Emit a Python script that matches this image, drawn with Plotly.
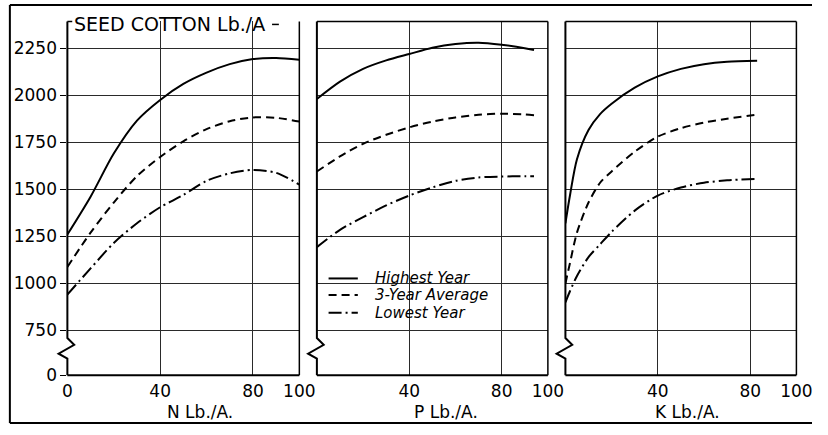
import plotly.graph_objects as go

# ---------------- data ----------------
N_x = [0, 10, 20, 30, 40, 50, 60, 70, 80, 90, 100]
N_high = [1260, 1461, 1690, 1865, 1975, 2060, 2120, 2165, 2192, 2198, 2188]
N_avg = [1088, 1270, 1430, 1570, 1672, 1755, 1820, 1862, 1882, 1880, 1860]
N_low = [941, 1080, 1215, 1320, 1405, 1470, 1545, 1585, 1603, 1588, 1525]

P_x = [0, 10, 20, 30, 40, 50, 60, 70, 80, 90, 94]
P_high = [1980, 2072, 2140, 2185, 2219, 2252, 2272, 2279, 2268, 2250, 2240]
P_avg = [1595, 1675, 1742, 1790, 1829, 1860, 1882, 1896, 1902, 1898, 1894]
P_low = [1193, 1285, 1352, 1415, 1467, 1510, 1545, 1563, 1568, 1570, 1570]

K_x = [0, 2, 5, 10, 15, 20, 30, 40, 50, 60, 70, 83]
K_high = [1320, 1470, 1660, 1815, 1900, 1955, 2040, 2100, 2140, 2165, 2178, 2183]
K_avg = [1000, 1110, 1270, 1430, 1535, 1595, 1700, 1780, 1825, 1855, 1875, 1897]
K_low = [900, 960, 1040, 1140, 1208, 1274, 1387, 1467, 1510, 1535, 1548, 1556]

series_names = ["Highest Year", "3-Year Average", "Lowest Year"]
panel_titles = ["N Lb./A.", "P Lb./A.", "K Lb./A."]
y_title = "SEED COTTON Lb./A"
y_ticks = [750, 1000, 1250, 1500, 1750, 2000, 2250]
y_break_label = "0"
x_ticks = [[0, 40, 80, 100], [40, 80, 100], [40, 80, 100]]

panels_data = [
    (N_x, [N_high, N_avg, N_low]),
    (P_x, [P_high, P_avg, P_low]),
    (K_x, [K_high, K_avg, K_low]),
]

# ---------------- layout geometry (pixels) ----------------
W, H = 828, 435
panel_px = [(64, 302), (320, 557), (575, 812)]
top_px, bot_px = 22, 384
# y scale: 750 at 338.3 px, 2250 at 49.3 px
scale = (338.3 - 49.3) / 1500.0
y_lo = 750 - (bot_px - 338.3) / scale
y_hi = 750 + (338.3 - top_px) / scale


def fx(p):
    return p / W


def fy(p):
    return 1 - p / H


dashes = ["solid", "8px,5px", "13px,4px,2px,4px"]
FONT = "DejaVu Sans"

fig = go.Figure()
for i, (xs, ys_list) in enumerate(panels_data):
    ax = "" if i == 0 else str(i + 1)
    for j, ys in enumerate(ys_list):
        fig.add_trace(go.Scatter(
            x=xs, y=ys, mode="lines", name=series_names[j],
            line=dict(color="black", width=2, dash=dashes[j], shape="spline", smoothing=0.8),
            xaxis="x" + ax, yaxis="y" + ax, showlegend=False,
        ))

layout = dict(
    width=W, height=H, margin=dict(l=0, r=0, t=0, b=0),
    paper_bgcolor="white", plot_bgcolor="white",
    font=dict(family=FONT, color="black", size=17),
    showlegend=False,
)

shapes = []
annotations = []
for i, (L, R) in enumerate(panel_px):
    ax = "" if i == 0 else str(i + 1)
    layout["xaxis" + ax] = dict(
        domain=[fx(L), fx(R)], range=[0, 100], anchor="y" + ax,
        tickvals=x_ticks[i], ticktext=[str(v) for v in x_ticks[i]],
        showgrid=True, gridcolor="#2a2a2a", gridwidth=1,
        zeroline=False, showline=False, ticks="", ticklen=0,
        ticklabelstandoff=4,
        tickfont=dict(size=17, family=FONT), fixedrange=True,
    )
    ydict = dict(
        domain=[fy(bot_px), fy(top_px)], range=[y_lo, y_hi], anchor="x" + ax,
        tickvals=[y_lo] + y_ticks,
        showgrid=True, gridcolor="#2a2a2a", gridwidth=1,
        zeroline=False, showline=False, fixedrange=True,
    )
    if i == 0:
        ydict.update(ticktext=[y_break_label] + [str(v) for v in y_ticks],
                     ticks="outside", ticklen=6, tickcolor="black", tickwidth=1,
                     tickfont=dict(size=17, family=FONT))
    else:
        ydict.update(showticklabels=False, ticks="")
    layout["yaxis" + ax] = ydict

    # left border with axis-break zigzag
    path = (f"M {fx(L)},{fy(top_px)} L {fx(L)},{fy(346)} L {fx(L+7)},{fy(353)} "
            f"L {fx(L-9)},{fy(362)} L {fx(L)},{fy(367)} L {fx(L)},{fy(bot_px)}")
    shapes.append(dict(type="path", path=path, xref="paper", yref="paper",
                       line=dict(color="black", width=2)))
    # bottom
    shapes.append(dict(type="line", xref="paper", yref="paper",
                       x0=fx(L), x1=fx(R), y0=fy(bot_px), y1=fy(bot_px),
                       line=dict(color="black", width=2)))
    # right
    shapes.append(dict(type="line", xref="paper", yref="paper",
                       x0=fx(R), x1=fx(R), y0=fy(bot_px), y1=fy(top_px),
                       line=dict(color="black", width=1.5)))
    if i > 0:
        shapes.append(dict(type="line", xref="paper", yref="paper",
                           x0=fx(L), x1=fx(R), y0=fy(top_px), y1=fy(top_px),
                           line=dict(color="black", width=1.5)))

# stub at top of first axis and dash after title
shapes.append(dict(type="line", xref="paper", yref="paper",
                   x0=fx(64), x1=fx(69), y0=fy(22), y1=fy(22),
                   line=dict(color="black", width=1.5)))
shapes.append(dict(type="line", xref="paper", yref="paper",
                   x0=fx(274), x1=fx(281), y0=fy(25), y1=fy(25),
                   line=dict(color="black", width=1.5)))

# outer frame (top, left, bottom)
for (x0, y0, x1, y1) in [(5, 5, 828, 5), (5, 5, 5, 433), (5, 433, 828, 433)]:
    shapes.append(dict(type="line", xref="paper", yref="paper",
                       x0=fx(x0), x1=fx(x1), y0=fy(y0), y1=fy(y1),
                       line=dict(color="black", width=2)))

# manual legend (inside the P panel)
legend_rows = [285, 302, 320]
for j, ry in enumerate(legend_rows):
    shapes.append(dict(type="line", xref="paper", yref="paper",
                       x0=fx(332), x1=fx(362), y0=fy(ry), y1=fy(ry),
                       line=dict(color="black", width=2, dash=dashes[j])))
    annotations.append(dict(text=series_names[j], x=fx(378), y=fy(ry),
                            xref="paper", yref="paper", xanchor="left", yanchor="middle",
                            showarrow=False,
                            font=dict(family=FONT, size=15, style="italic", color="black")))

annotations.append(dict(text=y_title, x=fx(69), y=fy(25), xref="paper", yref="paper",
                        xanchor="left", yanchor="middle", showarrow=False,
                        font=dict(family=FONT, size=19, color="black")))
for t, cx in zip(panel_titles, [200, 452, 700]):
    annotations.append(dict(text=t, x=fx(cx), y=fy(422), xref="paper", yref="paper",
                            xanchor="center", yanchor="middle", showarrow=False,
                            font=dict(family=FONT, size=17, color="black")))

layout["shapes"] = shapes
layout["annotations"] = annotations
fig.update_layout(**layout)
fig.write_html("out.html")
